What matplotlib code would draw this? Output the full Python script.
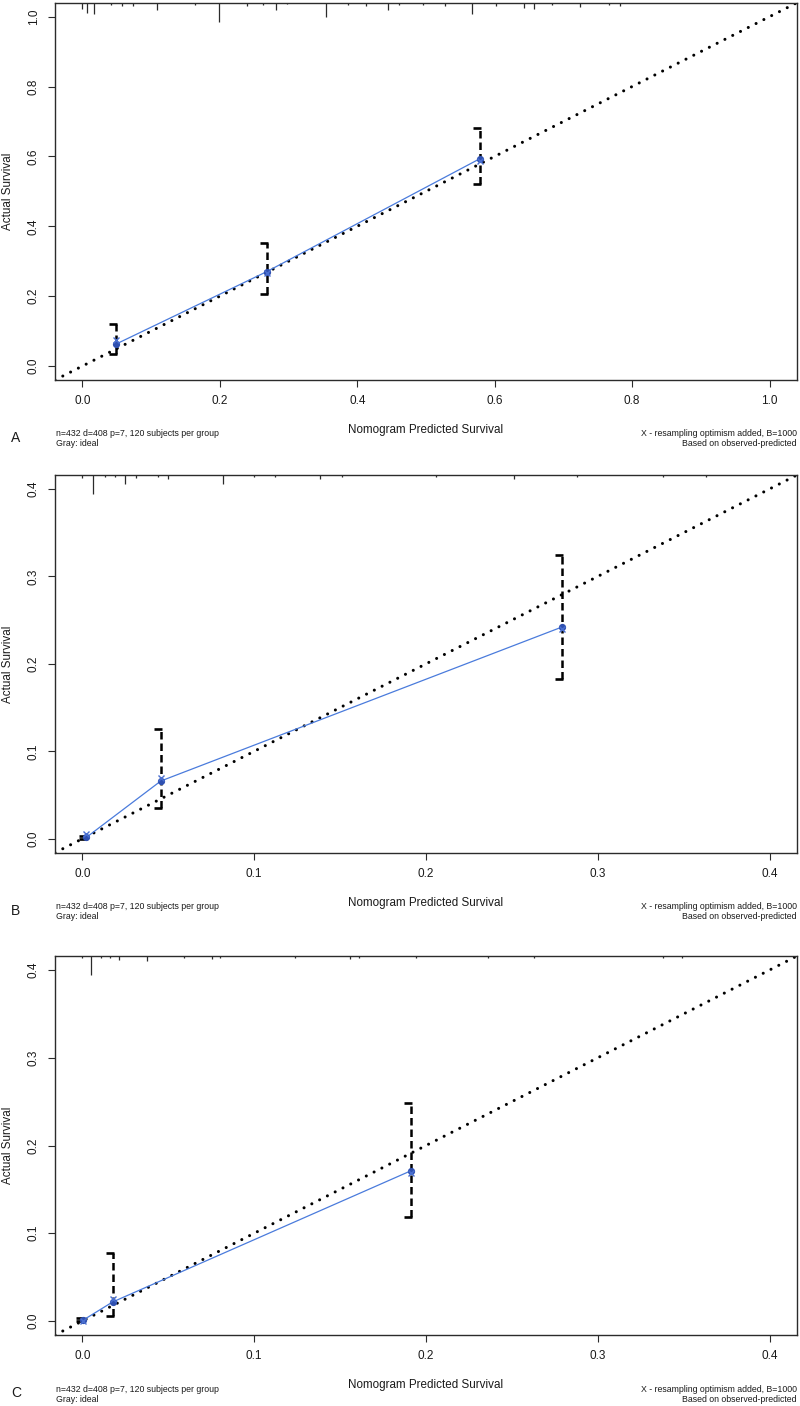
import matplotlib
matplotlib.use("Agg")
import matplotlib.pyplot as plt
from matplotlib.path import Path

plt.rcParams["font.family"] = ["Liberation Sans", "DejaVu Sans"]

W, H = 800, 1406

# ---- data ----
panel_letters = ["A", "B", "C"]

pred_a = [0.049, 0.268, 0.578]
obs_a = [0.063, 0.270, 0.593]
corr_a = [0.074, 0.265, 0.588]
lo_a = [0.034, 0.205, 0.520]
hi_a = [0.120, 0.353, 0.680]

pred_b = [0.0023, 0.0456, 0.279]
obs_b = [0.0016, 0.066, 0.242]
corr_b = [0.005, 0.069, 0.240]
lo_b = [0.0, 0.035, 0.183]
hi_b = [0.003, 0.126, 0.325]

pred_c = [0.0004, 0.0175, 0.191]
obs_c = [0.001, 0.0216, 0.171]
corr_c = [0.0, 0.025, 0.169]
lo_c = [0.0, 0.006, 0.118]
hi_c = [0.003, 0.077, 0.248]

# distribution of predicted values (rug at top), relative frequency
rug_a_x = [0.0, 0.007, 0.017, 0.041, 0.058, 0.074, 0.108, 0.164, 0.198, 0.239,
           0.263, 0.281, 0.297, 0.355, 0.387, 0.413, 0.445, 0.461, 0.495, 0.527,
           0.567, 0.602, 0.643, 0.657, 0.684, 0.724, 0.767, 0.783]
rug_a_f = [6, 10, 11, 2, 3, 3, 7, 2, 19, 3, 2, 7, 1.5, 14, 2, 3, 7, 2, 2, 3,
           11, 3, 5, 6, 2, 4, 2, 3]
rug_b_x = [0.0, 0.006, 0.013, 0.019, 0.025, 0.031, 0.044, 0.050, 0.082, 0.100,
           0.112, 0.138, 0.151, 0.206, 0.251, 0.288, 0.338, 0.363]
rug_b_f = [3, 19, 2, 2, 9, 3, 2, 4, 9, 2, 2, 4, 2, 2, 4, 2, 2, 2]
rug_c_x = [0.0, 0.0052, 0.0107, 0.016, 0.0211, 0.0373, 0.0591, 0.0752, 0.080,
           0.1237, 0.156, 0.161, 0.194, 0.236, 0.263, 0.338, 0.349]
rug_c_f = [2, 18, 2, 2, 4, 5, 2, 3, 1.5, 1.5, 3, 1.5, 2, 1.5, 2, 1.5, 2]

limits = [(-0.04, 1.04), (-0.016, 0.416), (-0.016, 0.416)]
ticks = [[0.0, 0.2, 0.4, 0.6, 0.8, 1.0], [0.0, 0.1, 0.2, 0.3, 0.4],
         [0.0, 0.1, 0.2, 0.3, 0.4]]

foot_left = ["n=432 d=408 p=7, 120 subjects per group", "Gray: ideal"]
foot_right = ["X - resampling optimism added, B=1000", "Based on observed-predicted"]

panels = [
    (pred_a, obs_a, corr_a, lo_a, hi_a, rug_a_x, rug_a_f),
    (pred_b, obs_b, corr_b, lo_b, hi_b, rug_b_x, rug_b_f),
    (pred_c, obs_c, corr_c, lo_c, hi_c, rug_c_x, rug_c_f),
]

# panel box positions in pixels (top, bottom)
tops = [2.7, 475, 956]
bottoms = [380, 852.7, 1335]
left, right = 55, 797

dark = "#2b2b2b"
cap_path = Path([(-1.0, 0.0), (0.15, 0.0)], [Path.MOVETO, Path.LINETO])

fig = plt.figure(figsize=(W / 100, H / 100), dpi=100)

for i, (pred, obs, corr, lo, hi, rx, rf) in enumerate(panels):
    top, bot = tops[i], bottoms[i]
    ax_h = bot - top
    ax = fig.add_axes([left / W, 1 - bot / H, (right - left) / W, ax_h / H])
    lim = limits[i]
    ax.set_xlim(lim)
    ax.set_ylim(lim)

    # ideal line
    ax.plot(lim, lim, color="black", lw=2.2, linestyle=(0, (0.01, 2.85)),
            dash_capstyle="round", zorder=2)

    # apparent calibration
    ax.plot(pred, obs, color="#4a7bdc", lw=0.9, zorder=3)

    # error bars
    ax.vlines(pred, lo, hi, colors="black", lw=1.8,
              linestyles=[(0, (3, 1.6))], zorder=4)
    ax.plot(pred, lo, linestyle="none", marker=cap_path, markersize=10,
            mec="black", mew=1.9, zorder=4)
    ax.plot(pred, hi, linestyle="none", marker=cap_path, markersize=10,
            mec="black", mew=1.9, zorder=4)

    ax.plot(pred, obs, linestyle="none", marker="o", markersize=4.2,
            color="#2f50b0", zorder=5)
    ax.plot(pred, corr, linestyle="none", marker="x", markersize=4.5,
            mew=1.0, color="#4a6fd0", zorder=6)

    # rug of predicted values along the top
    scale = 19.0 / ax_h / max(rf)
    ax.vlines(rx, [1 - f * scale for f in rf], 1,
              transform=ax.get_xaxis_transform(), colors=dark, lw=0.9,
              zorder=3)

    for s in ax.spines.values():
        s.set_color(dark)
        s.set_linewidth(1.0)

    ax.set_xticks(ticks[i])
    ax.set_yticks(ticks[i])
    ax.set_xticklabels([f"{t:.1f}" for t in ticks[i]])
    ax.set_yticklabels([f"{t:.1f}" for t in ticks[i]], rotation=90, va="center")
    ax.tick_params(direction="out", length=5, width=0.8, color=dark,
                   labelsize=8.5, labelcolor="#1a1a1a", pad=6)

    ax.set_xlabel("Nomogram Predicted Survival", fontsize=8.4, color="#1a1a1a")
    ax.xaxis.set_label_coords(0.5, -50 / ax_h)
    ax.xaxis.label.set_va("center")
    ax.set_ylabel("Actual Survival", fontsize=8.4, color="#1a1a1a")
    ax.yaxis.set_label_coords((8 - left) / (right - left), 0.5)
    ax.yaxis.label.set_va("center")

    # footnotes and panel letter
    for k, txt in enumerate(foot_left):
        fig.text(56 / W, 1 - (bot + 54 + 10 * k) / H, txt, fontsize=6.3,
                 ha="left", va="center", color="#1a1a1a")
    for k, txt in enumerate(foot_right):
        fig.text(797 / W, 1 - (bot + 54 + 10 * k) / H, txt, fontsize=6.3,
                 ha="right", va="center", color="#1a1a1a")
    fig.text(16 / W, 1 - (bot + 58) / H, panel_letters[i], fontsize=10,
             ha="center", va="center", color="#1a1a1a")

fig.savefig("out.png", dpi=100)
